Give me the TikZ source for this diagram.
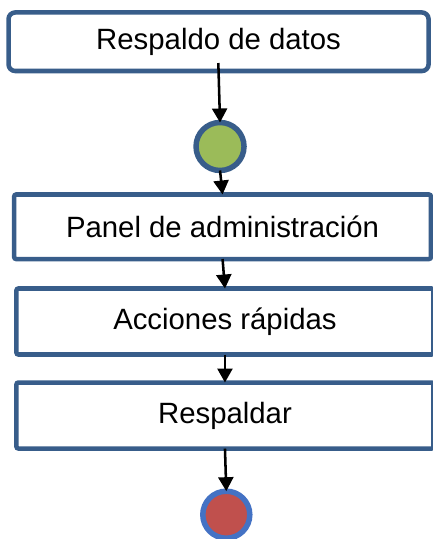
\documentclass[tikz,border=0pt]{standalone}
\usepackage{fontspec}
\setmainfont{Liberation Sans}
\usepackage{tikz}
\usetikzlibrary{shapes,positioning,calc}
\usetikzlibrary{arrows.meta}
\definecolor{bordeazul}{HTML}{385D8A}
\definecolor{azulclaro}{HTML}{4472C4}
\definecolor{verde}{HTML}{9BBB59}
\definecolor{rojo}{HTML}{C0504D}
\tikzstyle{flecha} = [line width=1.9pt,-{Triangle[width=11.25pt,length=10.5pt]}]

\begin{document}
\begin{tikzpicture}[caja/.style={rectangle, draw=bordeazul, line width=3.4pt, fill=white, outer sep=0pt, rounded corners=1.5pt, align=center, font=\fontsize{22}{26}\selectfont},
	estado/.style={circle, line width=4.1pt, outer sep=0pt, inner sep=0pt}]
			
			\useasboundingbox (-163.9pt,31.3pt) rectangle (160.1pt,-372.9pt);
			
			% ACTIVIDADES
			
			\node [caja, rounded corners=5pt, minimum width=315pt, minimum height=43.9pt] (respaldo) at (0,0) {Respaldo de datos};
			
			\node [estado, draw=bordeazul, fill=verde, minimum size=36pt, below=38.6pt of respaldo, xshift=1.1pt] (inicio) {};
			
			\node [caja, minimum width=312.5pt, minimum height=48.4pt, below=18pt of inicio, xshift=1.9pt] (panel) {Panel de administración};
			
			\node [caja, minimum width=312.75pt, minimum height=49.5pt, below=22.1pt of panel, xshift=1.8pt] (acciones) {Acciones rápidas};
			
			\node [caja, minimum width=312.75pt, minimum height=49.5pt, below=21pt of acciones] (respaldar) {Respaldar};
			
			\node [estado, draw=azulclaro, fill=rojo, minimum size=35.25pt, below=32pt of respaldar, xshift=1pt] (fin) {};
			
			% FLUJO
			
			\draw [flecha, shorten <=-6pt] (respaldo.south) -- (inicio.north);
			\draw [flecha] (inicio.south) -- (panel.north);
			\draw [flecha] (panel.south) -- (acciones.north);
			\draw [flecha] (acciones.south) -- (respaldar.north);
			\draw [flecha] (respaldar.south) -- (fin.north);
			
			\end{tikzpicture}
\end{document}
